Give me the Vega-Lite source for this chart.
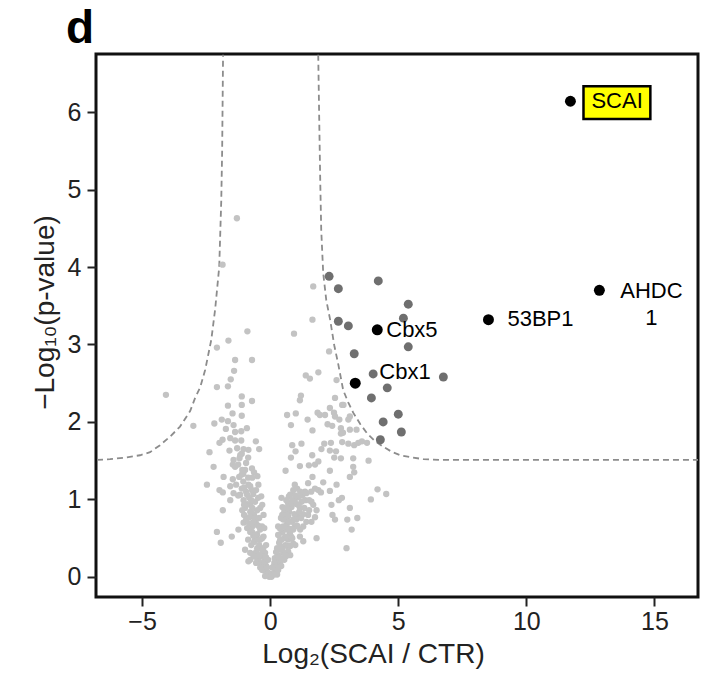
{
  "$schema": "https://vega.github.io/schema/vega-lite/v6.json",
  "width": 602,
  "height": 543,
  "autosize": {"type": "none"},
  "padding": {"left": 96, "top": 54, "right": 12, "bottom": 77},
  "background": "white",
  "title": {"text": "d", "anchor": "start", "frame": "group", "fontSize": 46, "fontWeight": "bold", "font": "Liberation Sans", "dx": -30, "offset": 1, "color": "#000"},
  "config": {
    "view": {"stroke": "#111", "strokeWidth": 3},
    "axis": {"domain": false, "grid": false, "tickColor": "#222", "tickWidth": 2, "tickSize": 9, "labelFontSize": 25, "labelColor": "#222", "labelFont": "Liberation Sans", "titleFont": "Liberation Sans", "titleFontSize": 28, "titleFontWeight": "normal", "titleColor": "#222"}
  },
  "datasets": {
    "pts": [
      {"x":-1.30,"y":4.63,"g":"n"},{"x":-1.86,"y":4.03,"g":"n"},{"x":-0.89,"y":3.17,"g":"n"},{"x":-1.63,"y":3.05,"g":"n"},{"x":-2.08,"y":2.96,"g":"n"},{"x":-1.37,"y":2.80,"g":"n"},{"x":-0.71,"y":2.80,"g":"n"},{"x":-1.41,"y":2.66,"g":"n"},{"x":-1.54,"y":2.55,"g":"n"},{"x":-2.08,"y":2.45,"g":"n"},{"x":-1.65,"y":2.46,"g":"n"},{"x":-1.11,"y":2.33,"g":"n"},{"x":-0.71,"y":2.27,"g":"n"},{"x":-1.65,"y":2.21,"g":"n"},{"x":-1.11,"y":2.22,"g":"n"},{"x":-1.47,"y":2.11,"g":"n"},{"x":-1.11,"y":2.08,"g":"n"},{"x":-3.00,"y":1.95,"g":"n"},{"x":-4.07,"y":2.35,"g":"n"},{"x":-2.18,"y":1.98,"g":"n"},{"x":-1.89,"y":2.03,"g":"n"},{"x":-1.65,"y":2.01,"g":"n"},{"x":-1.43,"y":1.96,"g":"n"},{"x":-1.73,"y":1.91,"g":"n"},{"x":-1.13,"y":1.88,"g":"n"},{"x":-0.91,"y":1.92,"g":"n"},{"x":-1.37,"y":1.87,"g":"n"},{"x":-1.86,"y":1.77,"g":"n"},{"x":-1.98,"y":1.73,"g":"n"},{"x":-1.56,"y":1.79,"g":"n"},{"x":-1.37,"y":1.76,"g":"n"},{"x":-1.13,"y":1.76,"g":"n"},{"x":-0.56,"y":1.75,"g":"n"},{"x":-2.37,"y":1.61,"g":"n"},{"x":-1.59,"y":1.63,"g":"n"},{"x":-1.04,"y":1.65,"g":"n"},{"x":-0.85,"y":1.64,"g":"n"},{"x":-1.11,"y":1.59,"g":"n"},{"x":-0.43,"y":1.65,"g":"n"},{"x":-1.43,"y":1.51,"g":"n"},{"x":-1.20,"y":1.53,"g":"n"},{"x":-2.21,"y":1.42,"g":"n"},{"x":-1.46,"y":1.45,"g":"n"},{"x":-1.37,"y":1.42,"g":"n"},{"x":-0.71,"y":1.40,"g":"n"},{"x":-0.63,"y":1.35,"g":"n"},{"x":-1.11,"y":1.32,"g":"n"},{"x":-1.82,"y":1.29,"g":"n"},{"x":-1.46,"y":1.26,"g":"n"},{"x":-0.50,"y":1.30,"g":"n"},{"x":-2.47,"y":1.19,"g":"n"},{"x":-1.56,"y":1.17,"g":"n"},{"x":-1.11,"y":1.14,"g":"n"},{"x":-0.85,"y":1.19,"g":"n"},{"x":-0.46,"y":1.19,"g":"n"},{"x":-1.98,"y":1.12,"g":"n"},{"x":-1.85,"y":1.09,"g":"n"},{"x":-1.43,"y":1.08,"g":"n"},{"x":-0.71,"y":1.12,"g":"n"},{"x":-1.17,"y":1.06,"g":"n"},{"x":-0.35,"y":1.04,"g":"n"},{"x":-1.56,"y":0.99,"g":"n"},{"x":-1.04,"y":0.99,"g":"n"},{"x":-0.78,"y":0.93,"g":"n"},{"x":-0.98,"y":0.89,"g":"n"},{"x":-0.39,"y":0.89,"g":"n"},{"x":-1.85,"y":0.86,"g":"n"},{"x":-0.71,"y":0.82,"g":"n"},{"x":-0.26,"y":0.80,"g":"n"},{"x":-0.55,"y":0.74,"g":"n"},{"x":-1.04,"y":0.70,"g":"n"},{"x":-2.08,"y":0.58,"g":"n"},{"x":-1.24,"y":0.61,"g":"n"},{"x":-0.71,"y":0.58,"g":"n"},{"x":-0.32,"y":0.65,"g":"n"},{"x":-1.50,"y":0.52,"g":"n"},{"x":-1.93,"y":0.44,"g":"n"},{"x":-0.59,"y":0.48,"g":"n"},{"x":-0.26,"y":0.52,"g":"n"},{"x":-0.98,"y":0.35,"g":"n"},{"x":-0.78,"y":0.31,"g":"n"},{"x":-0.46,"y":0.37,"g":"n"},{"x":-0.20,"y":0.31,"g":"n"},{"x":-0.85,"y":0.20,"g":"n"},{"x":-0.39,"y":0.18,"g":"n"},{"x":-0.20,"y":0.09,"g":"n"},{"x":-0.07,"y":0.05,"g":"n"},
      {"x":-0.98,"y":1.38,"g":"n"},{"x":-0.86,"y":1.28,"g":"n"},{"x":-1.05,"y":1.23,"g":"n"},{"x":-0.78,"y":1.17,"g":"n"},{"x":-0.94,"y":1.10,"g":"n"},{"x":-0.66,"y":1.07,"g":"n"},{"x":-0.82,"y":1.02,"g":"n"},{"x":-0.59,"y":0.97,"g":"n"},{"x":-0.90,"y":0.94,"g":"n"},{"x":-0.70,"y":0.89,"g":"n"},{"x":-0.51,"y":0.86,"g":"n"},{"x":-0.63,"y":0.80,"g":"n"},{"x":-0.82,"y":0.77,"g":"n"},{"x":-0.43,"y":0.76,"g":"n"},{"x":-0.55,"y":0.68,"g":"n"},{"x":-0.70,"y":0.65,"g":"n"},{"x":-0.39,"y":0.61,"g":"n"},{"x":-0.51,"y":0.55,"g":"n"},{"x":-0.31,"y":0.50,"g":"n"},{"x":-0.63,"y":0.45,"g":"n"},{"x":-0.43,"y":0.41,"g":"n"},{"x":-0.27,"y":0.37,"g":"n"},{"x":-0.55,"y":0.32,"g":"n"},{"x":-0.35,"y":0.27,"g":"n"},{"x":-0.23,"y":0.22,"g":"n"},{"x":-0.47,"y":0.22,"g":"n"},{"x":-0.31,"y":0.15,"g":"n"},{"x":-0.16,"y":0.14,"g":"n"},{"x":-0.39,"y":0.12,"g":"n"},{"x":-0.23,"y":0.08,"g":"n"},{"x":-0.12,"y":0.04,"g":"n"},{"x":-0.04,"y":0.00,"g":"n"},{"x":-0.20,"y":0.01,"g":"n"},{"x":-0.74,"y":0.41,"g":"n"},{"x":-0.90,"y":0.63,"g":"n"},{"x":-1.02,"y":0.80,"g":"n"},{"x":-0.94,"y":0.74,"g":"n"},{"x":-0.66,"y":0.53,"g":"n"},{"x":-0.47,"y":0.48,"g":"n"},{"x":-0.16,"y":0.25,"g":"n"},{"x":-0.59,"y":0.26,"g":"n"},{"x":-0.78,"y":0.22,"g":"n"},{"x":-1.09,"y":1.38,"g":"n"},{"x":-1.25,"y":1.45,"g":"n"},{"x":-0.94,"y":1.47,"g":"n"},{"x":-1.21,"y":1.29,"g":"n"},{"x":-1.05,"y":1.33,"g":"n"},
      {"x":-1.02,"y":1.15,"g":"n"},{"x":-0.90,"y":1.06,"g":"n"},{"x":-0.74,"y":0.99,"g":"n"},{"x":-1.02,"y":0.93,"g":"n"},{"x":-0.78,"y":0.84,"g":"n"},{"x":-0.59,"y":0.76,"g":"n"},{"x":-0.66,"y":0.71,"g":"n"},{"x":-0.47,"y":0.66,"g":"n"},{"x":-0.78,"y":0.58,"g":"n"},{"x":-0.59,"y":0.54,"g":"n"},{"x":-0.39,"y":0.48,"g":"n"},{"x":-0.51,"y":0.37,"g":"n"},{"x":-0.31,"y":0.34,"g":"n"},{"x":-0.43,"y":0.28,"g":"n"},{"x":-0.20,"y":0.19,"g":"n"},{"x":-0.31,"y":0.09,"g":"n"},{"x":-0.12,"y":0.12,"g":"n"},{"x":-0.55,"y":0.18,"g":"n"},{"x":-0.66,"y":0.28,"g":"n"},{"x":-0.86,"y":0.48,"g":"n"},{"x":-0.82,"y":0.69,"g":"n"},{"x":-1.09,"y":0.86,"g":"n"},{"x":-1.25,"y":1.05,"g":"n"},{"x":-1.33,"y":1.19,"g":"n"},{"x":-1.17,"y":1.57,"g":"n"},{"x":-0.86,"y":1.54,"g":"n"},{"x":-1.29,"y":1.66,"g":"n"},{"x":-0.70,"y":1.28,"g":"n"},{"x":-0.55,"y":1.12,"g":"n"},{"x":-0.47,"y":1.02,"g":"n"},{"x":-0.31,"y":0.93,"g":"n"},{"x":-0.23,"y":0.63,"g":"n"},{"x":-0.16,"y":0.41,"g":"n"},{"x":-0.08,"y":0.22,"g":"n"},
      {"x":1.68,"y":3.75,"g":"n"},{"x":1.65,"y":3.32,"g":"n"},{"x":0.93,"y":3.14,"g":"n"},{"x":2.30,"y":2.91,"g":"n"},{"x":1.39,"y":2.60,"g":"n"},{"x":1.55,"y":2.56,"g":"n"},{"x":1.88,"y":2.64,"g":"n"},{"x":2.59,"y":2.54,"g":"n"},{"x":1.20,"y":2.34,"g":"n"},{"x":1.16,"y":2.28,"g":"n"},{"x":2.53,"y":2.31,"g":"n"},{"x":2.81,"y":2.22,"g":"n"},{"x":2.33,"y":2.18,"g":"n"},{"x":0.66,"y":2.09,"g":"n"},{"x":1.00,"y":2.11,"g":"n"},{"x":1.85,"y":2.12,"g":"n"},{"x":1.94,"y":2.09,"g":"n"},{"x":2.14,"y":2.09,"g":"n"},{"x":2.49,"y":2.12,"g":"n"},{"x":2.53,"y":2.07,"g":"n"},{"x":3.11,"y":2.07,"g":"n"},{"x":1.46,"y":2.03,"g":"n"},{"x":2.70,"y":2.03,"g":"n"},{"x":3.05,"y":2.03,"g":"n"},{"x":0.81,"y":1.96,"g":"n"},{"x":2.24,"y":1.97,"g":"n"},{"x":2.42,"y":1.95,"g":"n"},{"x":2.76,"y":1.92,"g":"n"},{"x":3.11,"y":1.90,"g":"n"},{"x":1.65,"y":1.89,"g":"n"},{"x":3.37,"y":1.90,"g":"n"},{"x":2.76,"y":1.85,"g":"n"},{"x":0.86,"y":1.70,"g":"n"},{"x":1.22,"y":1.72,"g":"n"},{"x":2.11,"y":1.72,"g":"n"},{"x":2.37,"y":1.73,"g":"n"},{"x":2.81,"y":1.74,"g":"n"},{"x":3.05,"y":1.72,"g":"n"},{"x":3.28,"y":1.70,"g":"n"},{"x":3.44,"y":1.73,"g":"n"},{"x":0.99,"y":1.62,"g":"n"},{"x":2.00,"y":1.65,"g":"n"},{"x":2.33,"y":1.63,"g":"n"},{"x":2.57,"y":1.62,"g":"n"},{"x":0.81,"y":1.54,"g":"n"},{"x":1.64,"y":1.57,"g":"n"},{"x":2.50,"y":1.54,"g":"n"},{"x":2.76,"y":1.53,"g":"n"},{"x":3.24,"y":1.53,"g":"n"},{"x":1.88,"y":1.49,"g":"n"},{"x":1.51,"y":1.44,"g":"n"},{"x":1.75,"y":1.45,"g":"n"},{"x":0.60,"y":1.37,"g":"n"},{"x":1.16,"y":1.43,"g":"n"},{"x":2.33,"y":1.37,"g":"n"},{"x":3.24,"y":1.42,"g":"n"},{"x":1.65,"y":1.29,"g":"n"},{"x":3.11,"y":1.29,"g":"n"},{"x":1.48,"y":1.21,"g":"n"},{"x":0.96,"y":1.19,"g":"n"},{"x":2.07,"y":1.22,"g":"n"},{"x":2.59,"y":1.19,"g":"n"},{"x":1.36,"y":1.10,"g":"n"},{"x":1.88,"y":1.12,"g":"n"},{"x":1.75,"y":1.14,"g":"n"},{"x":1.98,"y":1.09,"g":"n"},{"x":2.33,"y":1.11,"g":"n"},{"x":0.44,"y":1.02,"g":"n"},{"x":0.73,"y":1.04,"g":"n"},{"x":0.96,"y":0.98,"g":"n"},{"x":1.22,"y":0.97,"g":"n"},{"x":1.61,"y":0.97,"g":"n"},{"x":2.68,"y":0.99,"g":"n"},{"x":0.70,"y":0.95,"g":"n"},{"x":0.48,"y":0.90,"g":"n"},{"x":0.83,"y":0.90,"g":"n"},{"x":1.16,"y":0.89,"g":"n"},{"x":1.68,"y":0.93,"g":"n"},{"x":1.81,"y":0.86,"g":"n"},{"x":2.39,"y":0.93,"g":"n"},{"x":3.11,"y":0.89,"g":"n"},{"x":1.48,"y":0.80,"g":"n"},{"x":1.75,"y":0.77,"g":"n"},{"x":2.43,"y":0.80,"g":"n"},{"x":0.70,"y":0.78,"g":"n"},{"x":0.42,"y":0.76,"g":"n"},{"x":1.07,"y":0.78,"g":"n"},{"x":2.53,"y":0.74,"g":"n"},{"x":3.01,"y":0.74,"g":"n"},{"x":3.40,"y":0.76,"g":"n"},{"x":1.61,"y":0.71,"g":"n"},{"x":0.31,"y":0.65,"g":"n"},{"x":0.64,"y":0.67,"g":"n"},{"x":0.96,"y":0.65,"g":"n"},{"x":1.29,"y":0.65,"g":"n"},{"x":3.18,"y":0.61,"g":"n"},{"x":0.77,"y":0.56,"g":"n"},{"x":1.16,"y":0.52,"g":"n"},{"x":1.81,"y":0.50,"g":"n"},{"x":0.44,"y":0.48,"g":"n"},{"x":0.90,"y":0.43,"g":"n"},{"x":1.29,"y":0.46,"g":"n"},{"x":2.98,"y":0.37,"g":"n"},{"x":0.31,"y":0.35,"g":"n"},{"x":0.70,"y":0.33,"g":"n"},{"x":0.18,"y":0.24,"g":"n"},{"x":0.51,"y":0.24,"g":"n"},{"x":0.38,"y":0.18,"g":"n"},{"x":0.12,"y":0.13,"g":"n"},{"x":0.25,"y":0.07,"g":"n"},{"x":0.05,"y":0.00,"g":"n"},
      {"x":2.86,"y":2.22,"g":"n"},{"x":2.84,"y":1.86,"g":"n"},{"x":3.58,"y":1.75,"g":"n"},{"x":3.78,"y":1.73,"g":"n"},{"x":3.84,"y":1.50,"g":"n"},{"x":3.28,"y":1.35,"g":"n"},{"x":4.19,"y":1.13,"g":"n"},{"x":4.53,"y":1.07,"g":"n"},{"x":3.93,"y":1.00,"g":"n"},{"x":2.80,"y":1.02,"g":"n"},
      {"x":0.20,"y":0.06,"g":"n"},{"x":0.12,"y":0.12,"g":"n"},{"x":0.27,"y":0.15,"g":"n"},{"x":0.20,"y":0.22,"g":"n"},{"x":0.39,"y":0.21,"g":"n"},{"x":0.31,"y":0.28,"g":"n"},{"x":0.51,"y":0.31,"g":"n"},{"x":0.43,"y":0.39,"g":"n"},{"x":0.23,"y":0.32,"g":"n"},{"x":0.59,"y":0.41,"g":"n"},{"x":0.35,"y":0.44,"g":"n"},{"x":0.55,"y":0.50,"g":"n"},{"x":0.70,"y":0.48,"g":"n"},{"x":0.47,"y":0.57,"g":"n"},{"x":0.63,"y":0.61,"g":"n"},{"x":0.78,"y":0.62,"g":"n"},{"x":0.51,"y":0.65,"g":"n"},{"x":0.86,"y":0.71,"g":"n"},{"x":0.59,"y":0.74,"g":"n"},{"x":0.74,"y":0.84,"g":"n"},{"x":0.94,"y":0.81,"g":"n"},{"x":0.82,"y":0.92,"g":"n"},{"x":0.55,"y":0.85,"g":"n"},{"x":1.02,"y":0.94,"g":"n"},{"x":0.78,"y":1.06,"g":"n"},{"x":1.09,"y":1.03,"g":"n"},{"x":0.63,"y":0.99,"g":"n"},{"x":0.90,"y":1.12,"g":"n"},{"x":0.31,"y":0.54,"g":"n"},{"x":0.39,"y":0.62,"g":"n"},{"x":0.16,"y":0.18,"g":"n"},{"x":0.66,"y":0.40,"g":"n"},{"x":0.82,"y":0.52,"g":"n"},{"x":1.02,"y":0.74,"g":"n"},{"x":1.13,"y":0.84,"g":"n"},{"x":1.33,"y":0.89,"g":"n"},{"x":1.25,"y":1.05,"g":"n"},{"x":1.05,"y":1.14,"g":"n"},{"x":1.37,"y":0.99,"g":"n"},{"x":1.52,"y":0.86,"g":"n"},{"x":1.41,"y":0.71,"g":"n"},{"x":1.17,"y":0.61,"g":"n"},{"x":0.98,"y":0.41,"g":"n"},{"x":0.08,"y":0.04,"g":"n"},{"x":0.27,"y":0.03,"g":"n"},{"x":0.78,"y":0.28,"g":"n"},{"x":0.55,"y":0.22,"g":"n"},{"x":0.90,"y":0.61,"g":"n"},
      {"x":0.23,"y":0.12,"g":"n"},{"x":0.35,"y":0.25,"g":"n"},{"x":0.47,"y":0.35,"g":"n"},{"x":0.63,"y":0.52,"g":"n"},{"x":0.74,"y":0.71,"g":"n"},{"x":0.66,"y":0.80,"g":"n"},{"x":0.86,"y":0.99,"g":"n"},{"x":0.98,"y":1.05,"g":"n"},{"x":1.17,"y":1.10,"g":"n"},{"x":1.09,"y":0.93,"g":"n"},{"x":1.21,"y":0.76,"g":"n"},{"x":1.29,"y":0.81,"g":"n"},{"x":1.05,"y":0.66,"g":"n"},{"x":0.86,"y":0.50,"g":"n"},{"x":0.78,"y":0.40,"g":"n"},{"x":0.63,"y":0.27,"g":"n"},{"x":0.43,"y":0.14,"g":"n"},{"x":0.31,"y":0.09,"g":"n"},{"x":0.16,"y":0.03,"g":"n"},{"x":0.08,"y":0.12,"g":"n"},{"x":0.27,"y":0.37,"g":"n"},{"x":0.39,"y":0.48,"g":"n"},{"x":0.51,"y":0.74,"g":"n"},{"x":0.47,"y":0.80,"g":"n"},{"x":0.66,"y":0.89,"g":"n"},{"x":0.90,"y":0.74,"g":"n"},{"x":1.41,"y":1.08,"g":"n"},{"x":1.52,"y":0.99,"g":"n"},{"x":1.60,"y":1.10,"g":"n"},
      {"x":2.30,"y":3.88,"g":"s"},{"x":2.66,"y":3.72,"g":"s"},{"x":4.22,"y":3.82,"g":"s"},{"x":2.66,"y":3.30,"g":"s"},{"x":3.05,"y":3.24,"g":"s"},{"x":5.39,"y":3.52,"g":"s"},{"x":5.20,"y":3.34,"g":"s"},{"x":3.28,"y":2.88,"g":"s"},{"x":5.39,"y":2.97,"g":"s"},{"x":4.02,"y":2.62,"g":"s"},{"x":6.76,"y":2.58,"g":"s"},{"x":4.57,"y":2.44,"g":"s"},{"x":3.95,"y":2.31,"g":"s"},{"x":5.00,"y":2.10,"g":"s"},{"x":4.41,"y":2.00,"g":"s"},{"x":5.12,"y":1.87,"g":"s"},{"x":4.30,"y":1.77,"g":"s"},
      {"x":11.72,"y":6.14,"g":"h"},{"x":12.85,"y":3.70,"g":"h"},{"x":8.52,"y":3.32,"g":"h"},{"x":4.18,"y":3.19,"g":"h"},{"x":3.32,"y":2.50,"g":"h"}
    ],
    "curve": [
      {"b":"L","i":1,"x":-6.76,"y":1.51},{"b":"L","i":2,"x":-6.25,"y":1.52},{"b":"L","i":3,"x":-5.66,"y":1.54},{"b":"L","i":4,"x":-5.08,"y":1.57},{"b":"L","i":5,"x":-4.69,"y":1.61},{"b":"L","i":6,"x":-4.30,"y":1.70},{"b":"L","i":7,"x":-3.91,"y":1.81},{"b":"L","i":8,"x":-3.52,"y":1.94},{"b":"L","i":9,"x":-3.125,"y":2.14},{"b":"L","i":10,"x":-2.93,"y":2.31},{"b":"L","i":11,"x":-2.73,"y":2.45},{"b":"L","i":12,"x":-2.54,"y":2.67},{"b":"L","i":13,"x":-2.30,"y":3.06},{"b":"L","i":14,"x":-2.15,"y":3.45},{"b":"L","i":15,"x":-1.99,"y":4.00},{"b":"L","i":16,"x":-1.91,"y":4.86},{"b":"L","i":17,"x":-1.875,"y":5.51},{"b":"L","i":18,"x":-1.84,"y":6.74},
      {"b":"R","i":1,"x":1.875,"y":6.74},{"b":"R","i":2,"x":1.914,"y":5.90},{"b":"R","i":3,"x":1.953,"y":5.12},{"b":"R","i":4,"x":1.992,"y":4.48},{"b":"R","i":5,"x":2.07,"y":3.92},{"b":"R","i":6,"x":2.19,"y":3.57},{"b":"R","i":7,"x":2.34,"y":3.32},{"b":"R","i":8,"x":2.50,"y":2.99},{"b":"R","i":9,"x":2.66,"y":2.74},{"b":"R","i":10,"x":2.85,"y":2.41},{"b":"R","i":11,"x":3.05,"y":2.25},{"b":"R","i":12,"x":3.24,"y":2.12},{"b":"R","i":13,"x":3.52,"y":1.97},{"b":"R","i":14,"x":3.79,"y":1.85},{"b":"R","i":15,"x":4.10,"y":1.75},{"b":"R","i":16,"x":4.41,"y":1.68},{"b":"R","i":17,"x":4.77,"y":1.61},{"b":"R","i":18,"x":5.08,"y":1.57},{"b":"R","i":19,"x":5.55,"y":1.54},{"b":"R","i":20,"x":5.98,"y":1.52},{"b":"R","i":21,"x":6.64,"y":1.51},{"b":"R","i":22,"x":16.72,"y":1.51}
    ],
    "box": [{"x":12.23,"x2":14.84,"y":6.335,"y2":5.91}],
    "lblL": [
      {"x":12.54,"y":6.14,"t":"SCAI"},{"x":9.26,"y":3.33,"t":"53BP1"},{"x":4.53,"y":3.19,"t":"Cbx5"},{"x":4.26,"y":2.65,"t":"Cbx1"}
    ],
    "lblC": [
      {"x":14.88,"y":3.69,"t":"AHDC"},{"x":14.88,"y":3.34,"t":"1"}
    ]
  },
  "layer": [
    {
      "mark": {"type": "rule", "color": "#8a8a8a", "strokeWidth": 1.5},
      "encoding": {
        "x": {"datum": 0, "type": "quantitative", "scale": {"domain": [-6.8, 16.7], "nice": false, "zero": false}, "axis": {"values": [-5, 0, 5, 10, 15], "format": "d", "title": "Log₂(SCAI / CTR)", "labelPadding": 3, "titlePadding": 6, "titleX": 277}}
      }
    },
    {
      "data": {"name": "curve"},
      "mark": {"type": "line", "color": "#8c8c8c", "strokeWidth": 1.8, "strokeDash": [6, 4], "clip": true},
      "encoding": {
        "x": {"field": "x", "type": "quantitative"},
        "y": {"field": "y", "type": "quantitative", "scale": {"domain": [-0.26, 6.75], "nice": false, "zero": false}, "axis": {"values": [0, 1, 2, 3, 4, 5, 6], "format": "d", "title": "−Log₁₀(p-value)", "labelPadding": 6, "titlePadding": 8, "titleY": 258}},
        "detail": {"field": "b"},
        "order": {"field": "i"}
      }
    },
    {
      "data": {"name": "pts"},
      "mark": {"type": "circle", "opacity": 1},
      "encoding": {
        "x": {"field": "x", "type": "quantitative"},
        "y": {"field": "y", "type": "quantitative"},
        "color": {"field": "g", "type": "nominal", "scale": {"domain": ["n", "s", "h"], "range": ["#c3c3c3", "#6f6f6f", "#000000"]}, "legend": null},
        "size": {"field": "g", "type": "nominal", "scale": {"domain": ["n", "s", "h"], "range": [40, 120, 85]}, "legend": null}
      }
    },
    {
      "data": {"name": "box"},
      "mark": {"type": "rect", "fill": "#ffff00", "stroke": "#000", "strokeWidth": 2.5},
      "encoding": {
        "x": {"field": "x", "type": "quantitative"},
        "x2": {"field": "x2"},
        "y": {"field": "y", "type": "quantitative"},
        "y2": {"field": "y2"}
      }
    },
    {
      "data": {"name": "lblL"},
      "mark": {"type": "text", "align": "left", "baseline": "middle", "fontSize": 22, "font": "Liberation Sans", "color": "#000"},
      "encoding": {
        "x": {"field": "x", "type": "quantitative"},
        "y": {"field": "y", "type": "quantitative"},
        "text": {"field": "t"}
      }
    },
    {
      "data": {"name": "lblC"},
      "mark": {"type": "text", "align": "center", "baseline": "middle", "fontSize": 22, "font": "Liberation Sans", "color": "#000"},
      "encoding": {
        "x": {"field": "x", "type": "quantitative"},
        "y": {"field": "y", "type": "quantitative"},
        "text": {"field": "t"}
      }
    }
  ]
}
